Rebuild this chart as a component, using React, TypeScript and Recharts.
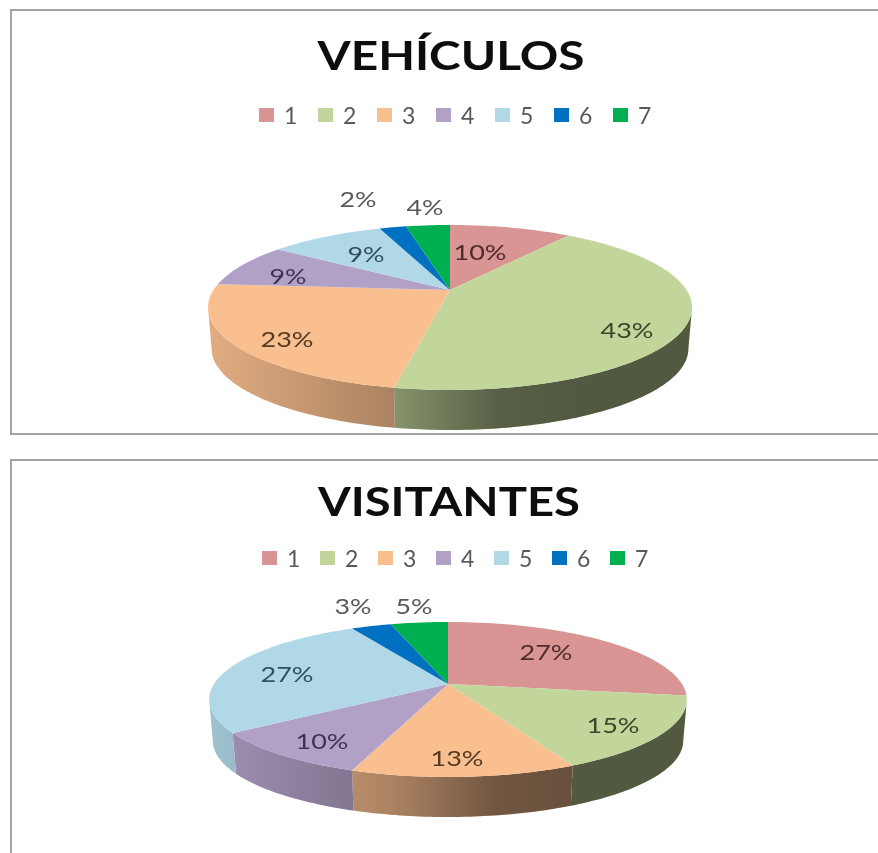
import React from 'react';
import { PieChart, Pie, Legend } from 'recharts';

const categories = ['1', '2', '3', '4', '5', '6', '7'];
const vehiculosValues = [10.0, 43.0, 23.2, 8.6, 9.4, 2.2, 3.6];
const visitantesValues = [27.4, 15.4, 12.6, 9.7, 26.9, 3.3, 4.7];
const sliceColors = ['#d99594', '#c2d69b', '#fabf8f', '#b2a1c7', '#b0d8e6', '#0070c0', '#00b050'];
const labelColors = ['#4f2b2b', '#3a472a', '#553a24', '#3d3452', '#33505c', '#595959', '#595959'];

const vehiculosLabelOffsets = [[30, -38], [177, 40], [-163, 49], [-162, -14], [-84, -36], [-92, -91], [-25, -83]];
const visitantesLabelOffsets = [[98, -32], [165, 41], [9, 74], [-126, 57], [-161, -10], [-95, -78], [-34, -78]];

const FONT = 'Lato, sans-serif';

type Geom = { A: number; B: number; k: number; s: number; d: number };
const vehiculosGeom: Geom = { A: 236.5, B: 78.8, k: 0.212, s: 0.985, d: 41.5 };
const visitantesGeom: Geom = { A: 234, B: 74.4, k: 0.2, s: 0.985, d: 41.4 };

const rad = (deg: number) => (deg * Math.PI) / 180;

function project(g: Geom, theta: number) {
  const u = Math.sin(rad(theta));
  const v = Math.cos(rad(theta));
  const w = 1 + g.k * v;
  return { x: (g.A * u) / w, y: (-g.B * v) / w };
}

function sampleAngles(from: number, to: number) {
  const out: number[] = [];
  const n = Math.max(2, Math.ceil(to - from));
  for (let i = 0; i <= n; i++) out.push(from + ((to - from) * i) / n);
  return out;
}

function makeShape(g: Geom, tag: string) {
  return function Slice(props: any) {
    const { cx, cy, startAngle, endAngle, fill } = props;
    const t0 = 90 - startAngle;
    const t1 = 90 - endAngle;
    const rim = sampleAngles(t0, t1).map((t) => project(g, t));
    const top =
      `M${cx},${cy} ` + rim.map((p) => `L${(cx + p.x).toFixed(2)},${(cy + p.y).toFixed(2)}`).join(' ') + ' Z';

    const limit = (Math.acos(-g.k) * 180) / Math.PI;
    const a = Math.max(t0, limit);
    const b = Math.min(t1, 360 - limit);
    let side = '';
    if (b > a) {
      const pts = sampleAngles(a, b).map((t) => project(g, t));
      const upper = pts.map((p) => `${(cx + p.x).toFixed(2)},${(cy + p.y).toFixed(2)}`);
      const lower = [...pts]
        .reverse()
        .map((p) => `${(cx + p.x * g.s).toFixed(2)},${(cy + p.y * g.s + g.d).toFixed(2)}`);
      side = 'M' + upper.join(' L') + ' L' + lower.join(' L') + ' Z';
    }
    const id = `shade-${tag}-${Math.round(startAngle)}`;
    return (
      <g>
        <defs>
          <linearGradient id={id} gradientUnits="userSpaceOnUse" x1={cx - 240} x2={cx + 240} y1={0} y2={0}>
            <stop offset="0" stopColor="#000" stopOpacity={0.1} />
            <stop offset="0.39" stopColor="#000" stopOpacity={0.32} />
            <stop offset="0.6" stopColor="#000" stopOpacity={0.55} />
            <stop offset="0.75" stopColor="#000" stopOpacity={0.58} />
            <stop offset="1" stopColor="#000" stopOpacity={0.58} />
          </linearGradient>
        </defs>
        {side && <path d={side} fill={fill} />}
        {side && <path d={side} fill={`url(#${id})`} />}
        <path d={top} fill={fill} />
      </g>
    );
  };
}

function makeLabel(offsets: number[][], cx: number, cy: number) {
  return function SliceLabel(props: any) {
    const i = props.index;
    const text = `${Math.round(props.value)}%`;
    return (
      <text
        x={cx + offsets[i][0]}
        y={cy + offsets[i][1] + 8}
        textAnchor="middle"
        fontFamily={FONT}
        fontSize={22}
        fill={labelColors[i]}
        textLength={text.length === 2 ? 37 : 53}
        lengthAdjust="spacingAndGlyphs"
      >
        {text}
      </text>
    );
  };
}

function makeLegend(x0: number, step: number) {
  return function LegendRow(props: any) {
    const items = props.payload || [];
    return (
      <div style={{ position: 'relative', height: 24, width: 878 }}>
        {items.map((it: any, i: number) => (
          <div key={it.value} style={{ position: 'absolute', left: x0 + i * step, top: 0, height: 24 }}>
            <div
              style={{
                position: 'absolute',
                left: 0,
                top: 5,
                width: 15,
                height: 14,
                background: it.color ?? it.payload?.fill,
              }}
            />
            <span
              style={{
                position: 'absolute',
                left: 25,
                top: -2,
                fontFamily: FONT,
                fontSize: 23,
                lineHeight: '28px',
                color: '#595959',
              }}
            >
              {it.value}
            </span>
          </div>
        ))}
      </div>
    );
  };
}

type PanelProps = {
  title: string;
  values: number[];
  top: number;
  height: number;
  cx: number;
  cy: number;
  geom: Geom;
  offsets: number[][];
  tag: string;
  titleY: number;
  titleSize: number;
  titleWidth: number;
  titleX: number;
  legendY: number;
  legendX: number;
  legendStep: number;
};

function Panel(p: PanelProps) {
  const table = categories.map((name, i) => ({ name, value: p.values[i], fill: sliceColors[i] }));
  return (
    <div style={{ position: 'absolute', left: 0, top: p.top, width: 878, height: p.height }}>
      <PieChart width={878} height={p.height} margin={{ top: 0, right: 0, bottom: 0, left: 0 }}>
        <text
          x={p.titleX}
          y={p.titleY}
          textAnchor="middle"
          fontFamily={FONT}
          fontWeight={700}
          fontSize={p.titleSize}
          fill="#0d0d0d"
          textLength={p.titleWidth}
          lengthAdjust="spacingAndGlyphs"
        >
          {p.title}
        </text>
        <Legend
          content={makeLegend(p.legendX, p.legendStep)}
          wrapperStyle={{ position: 'absolute', left: 0, top: p.legendY, width: 878, height: 24 }}
        />
        <Pie
          data={table}
          dataKey="value"
          nameKey="name"
          cx={p.cx}
          cy={p.cy}
          outerRadius={100}
          startAngle={90}
          endAngle={-270}
          stroke="none"
          isAnimationActive={false}
          shape={makeShape(p.geom, p.tag)}
          label={makeLabel(p.offsets, p.cx, p.cy)}
          labelLine={false}
        />
      </PieChart>
    </div>
  );
}

export default function App() {
  return (
    <div
      style={{
        position: 'absolute',
        left: 0,
        top: 0,
        width: 878,
        height: 853,
        overflow: 'hidden',
        background: '#fff',
        filter: 'blur(0.6px)',
      }}
    >
      <div
        style={{
          position: 'absolute',
          left: 10,
          top: 9,
          width: 880,
          height: 422,
          borderLeft: '2px solid #a3a3a3',
          borderTop: '2px solid #a3a3a3',
          borderBottom: '2px solid #a3a3a3',
        }}
      />
      <div
        style={{
          position: 'absolute',
          left: 10,
          top: 459,
          width: 880,
          height: 420,
          borderLeft: '2px solid #a3a3a3',
          borderTop: '2px solid #a3a3a3',
        }}
      />
      <Panel
        title="VEHÍCULOS"
        values={vehiculosValues}
        top={0}
        height={440}
        cx={450}
        cy={290}
        geom={vehiculosGeom}
        offsets={vehiculosLabelOffsets}
        tag="veh"
        titleX={451}
        titleY={70}
        titleSize={40}
        titleWidth={267}
        legendY={103}
        legendX={259}
        legendStep={59}
      />
      <Panel
        title="VISITANTES"
        values={visitantesValues}
        top={450}
        height={403}
        cx={448}
        cy={234}
        geom={visitantesGeom}
        offsets={visitantesLabelOffsets}
        tag="vis"
        titleX={449}
        titleY={66}
        titleSize={40}
        titleWidth={262}
        legendY={96}
        legendX={262}
        legendStep={58}
      />
    </div>
  );
}
